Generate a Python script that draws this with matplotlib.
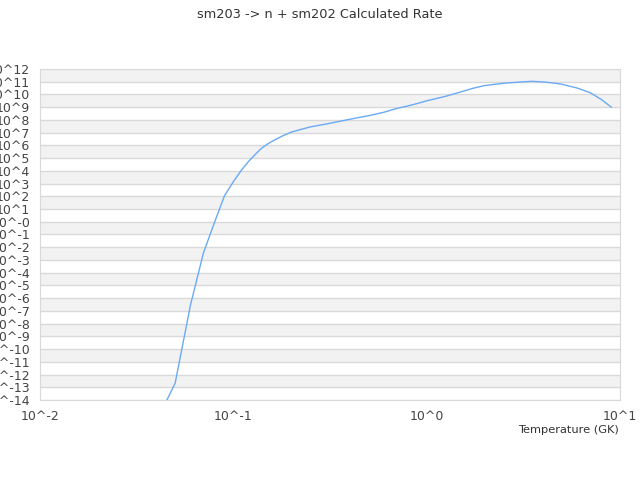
import matplotlib
matplotlib.use('Agg')
import matplotlib.pyplot as plt
import numpy as np

# data (temperature in GK, log10 of rate)
temperature = [0.04, 0.05, 0.06, 0.07, 0.08, 0.09, 0.1, 0.11, 0.12, 0.13, 0.14,
               0.15, 0.16, 0.18, 0.2, 0.25, 0.3, 0.35, 0.4, 0.45, 0.5, 0.6, 0.7,
               0.8, 0.9, 1.0, 1.25, 1.5, 1.75, 2.0, 2.5, 3.0, 3.5, 4.0, 4.5, 5.0,
               6.0, 7.0, 8.0, 9.0]
log_rate = [-15.7, -12.67, -6.54, -2.45, -0.02, 2.05, 3.15, 4.05, 4.75, 5.3, 5.78,
            6.1, 6.35, 6.75, 7.05, 7.45, 7.67, 7.87, 8.05, 8.2, 8.33, 8.6, 8.9,
            9.1, 9.3, 9.5, 9.85, 10.2, 10.5, 10.7, 10.88, 10.97, 11.03, 10.98,
            10.9, 10.8, 10.5, 10.14, 9.6, 9.0]

x_ticks = [-2, -1, 0, 1]
x_ticklabels = ['10^-2', '10^-1', '10^0', '10^1']
y_exps = list(range(-14, 13))
y_ticklabels = ['10^-0' if k == 0 else '10^%d' % k for k in y_exps]

plt.rcParams['font.family'] = 'DejaVu Sans'

fig = plt.figure(figsize=(6.4, 4.8), dpi=100)
ax = fig.add_axes([0.0625, 0.1667, 0.9065, 0.6896])

# alternating background bands
for k in y_exps[:-1]:
    if k % 2 != 0:
        ax.axhspan(10.0 ** k, 10.0 ** (k + 1), color='#f2f2f2', zorder=0, lw=0)
for k in y_exps:
    ax.axhline(10.0 ** k, color='#d9d9d9', lw=1, zorder=1)

ax.plot(temperature, 10.0 ** np.array(log_rate), color='#6aaaf5', lw=1, zorder=3)

ax.set_xscale('log')
ax.set_yscale('log')
ax.set_xlim(10.0 ** x_ticks[0], 10.0 ** x_ticks[-1])
ax.set_ylim(10.0 ** y_exps[0], 10.0 ** y_exps[-1])

ax.set_xticks([10.0 ** k for k in x_ticks])
ax.set_xticklabels(x_ticklabels)
ax.set_yticks([10.0 ** k for k in y_exps])
ax.set_yticklabels(y_ticklabels)
ax.minorticks_off()
ax.tick_params(length=0, labelsize=9, colors='#444444', pad=7)

for s in ax.spines.values():
    s.set_color('#d9d9d9')

ax.set_xlabel('Temperature (GK)', fontsize=8.2, color='#333333')
ax.xaxis.set_label_coords(0.9985, -0.077)
ax.xaxis.label.set_horizontalalignment('right')

fig.text(0.5, 1 - 14 / 480, 'sm203 -> n + sm202 Calculated Rate', fontsize=9.3,
         color='#333333', ha='center', va='center')

fig.savefig('out.png', dpi=100)
